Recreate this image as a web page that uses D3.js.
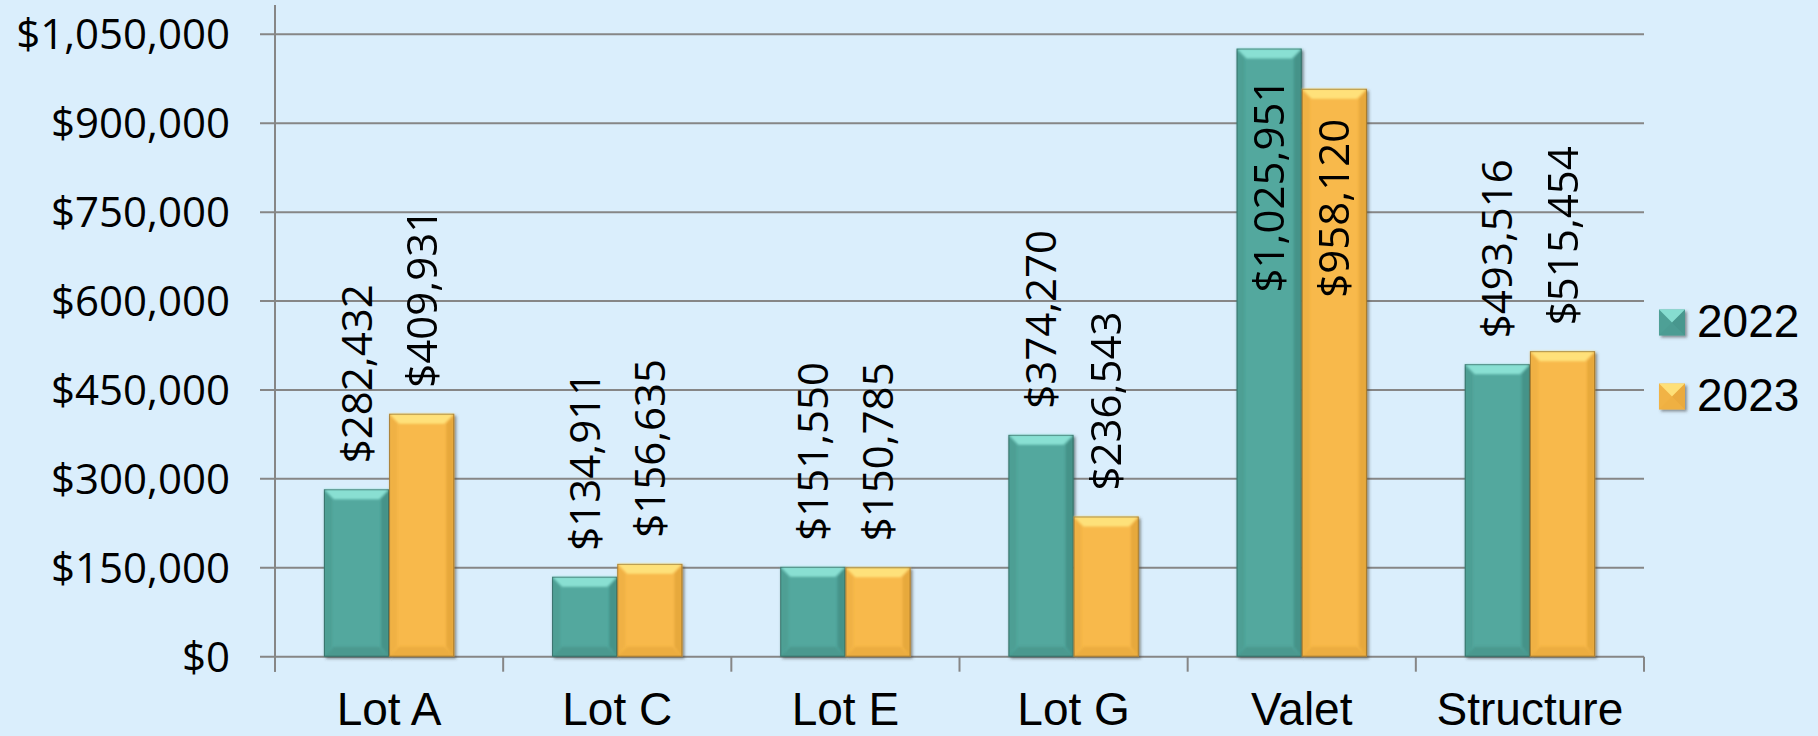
<!DOCTYPE html>
<html lang="en">
<head>
    <meta charset="UTF-8">
    <title>Parking revenue 2022 vs 2023</title>
    <script src="https://d3js.org/d3.v7.min.js"></script>
    <style>
        body {
            margin: 0;
            background-color: #daeefc;
        }
        svg {
            display: block;
        }
        .grid line, .axis-line {
            stroke: #868686;
            stroke-width: 2px;
        }
        .y-label, .data-label {
            font-family: "Open Sans", sans-serif;
            font-size: 42px;
            fill: #000;
        }
        .x-label, .legend-label {
            font-family: "Liberation Sans", Arial, sans-serif;
            font-size: 46px;
            fill: #000;
        }
    </style>
</head>
<body>
<svg id="chart" width="1818" height="736"></svg>

<script>
    // Chart data
    const categories = ["Lot A", "Lot C", "Lot E", "Lot G", "Valet", "Structure"];
    const seriesNames = ["2022", "2023"];
    const values2022 = [282432, 134911, 151550, 374270, 1025951, 493516];
    const values2023 = [409931, 156635, 150785, 236543, 958120, 515454];
    const yTicks = [0, 150000, 300000, 450000, 600000, 750000, 900000, 1050000];

    const seriesColors = {
        "2022": { base: "#53a89e", light: "#8fe6d8", dark: "#3b8279" },
        "2023": { base: "#f8b94b", light: "#ffe680", dark: "#d99a2e" }
    };

    const plotLeft = 275, plotRight = 1644;
    const plotTop = 5, yZero = 656.7, yMaxPx = 34.3;
    const tickLen = 15;

    const svg = d3.select("#chart");
    const defs = svg.append("defs");

    // soft drop shadow for bars
    const shadow = defs.append("filter")
        .attr("id", "barShadow")
        .attr("x", "-10%").attr("y", "-10%")
        .attr("width", "130%").attr("height", "130%");
    shadow.append("feDropShadow")
        .attr("dx", 2).attr("dy", 2)
        .attr("stdDeviation", 1.5)
        .attr("flood-color", "#404040")
        .attr("flood-opacity", 0.55);

    const soften = defs.append("filter").attr("id", "soften");
    soften.append("feGaussianBlur").attr("stdDeviation", 0.8);

    // Scales
    const x0 = d3.scaleBand()
        .domain(categories)
        .range([plotLeft, plotRight])
        .padding(0);

    const x1 = d3.scaleBand()
        .domain(seriesNames)
        .range([0, x0.bandwidth()])
        .paddingInner(0)
        .paddingOuter(0.75);

    const y = d3.scaleLinear()
        .domain([0, 1050000])
        .range([yZero, yMaxPx]);

    const fmt = d3.format("$,");

    // Gridlines (extend left past the axis as tick marks)
    const grid = svg.append("g").attr("class", "grid");
    grid.selectAll("line")
        .data(yTicks)
        .enter().append("line")
        .attr("x1", plotLeft - tickLen)
        .attr("x2", plotRight)
        .attr("y1", d => y(d))
        .attr("y2", d => y(d));

    // Y axis line
    svg.append("line")
        .attr("class", "axis-line")
        .attr("x1", plotLeft).attr("x2", plotLeft)
        .attr("y1", plotTop).attr("y2", yZero + tickLen);

    // Category tick marks below the x axis
    const boundaries = categories.map(c => x0(c)).concat([plotRight]);
    svg.append("g").selectAll("line")
        .data(boundaries)
        .enter().append("line")
        .attr("class", "axis-line")
        .attr("x1", d => d).attr("x2", d => d)
        .attr("y1", yZero).attr("y2", yZero + tickLen);

    // Y tick labels
    svg.append("g").selectAll("text")
        .data(yTicks)
        .enter().append("text")
        .attr("class", "y-label")
        .attr("x", 230)
        .attr("y", d => y(d))
        .attr("dy", "0.36em")
        .attr("text-anchor", "end")
        .text(d => fmt(d));

    // X category labels
    svg.append("g").selectAll("text")
        .data(categories)
        .enter().append("text")
        .attr("class", "x-label")
        .attr("x", d => x0(d) + x0.bandwidth() / 2)
        .attr("y", 725)
        .attr("text-anchor", "middle")
        .text(d => d);

    // Build bar records
    const bars = [];
    categories.forEach((cat, i) => {
        bars.push({ cat, series: "2022", value: values2022[i] });
        bars.push({ cat, series: "2023", value: values2023[i] });
    });

    /**
     * Draw one bevelled bar (Excel "soft bevel" look).
     */
    function drawBevelBar(g, bx, by, bw, bh, colors) {
        const d = Math.min(10, bh / 2, bw / 2);
        const poly = pts => "M" + pts.map(p => p.join(",")).join("L") + "Z";

        g.append("rect")
            .attr("x", bx).attr("y", by)
            .attr("width", bw).attr("height", bh)
            .attr("fill", colors.base)
            .attr("filter", "url(#barShadow)");

        const bevel = g.append("g").attr("filter", "url(#soften)");
        // top facet
        bevel.append("path")
            .attr("d", poly([[bx, by], [bx + bw, by], [bx + bw - d, by + d], [bx + d, by + d]]))
            .attr("fill", colors.light)
            .attr("opacity", 0.9);
        // left facet
        bevel.append("path")
            .attr("d", poly([[bx, by], [bx + d * 0.8, by + d], [bx + d * 0.8, by + bh - d], [bx, by + bh]]))
            .attr("fill", colors.dark)
            .attr("opacity", 0.25);
        // right facet
        bevel.append("path")
            .attr("d", poly([[bx + bw, by], [bx + bw - d * 0.8, by + d], [bx + bw - d * 0.8, by + bh - d], [bx + bw, by + bh]]))
            .attr("fill", colors.dark)
            .attr("opacity", 0.55);
        // bottom facet
        bevel.append("path")
            .attr("d", poly([[bx, by + bh], [bx + bw, by + bh], [bx + bw - d, by + bh - d], [bx + d, by + bh - d]]))
            .attr("fill", colors.dark)
            .attr("opacity", 0.4);

        g.append("rect")
            .attr("x", bx + 0.5).attr("y", by + 0.5)
            .attr("width", bw - 1).attr("height", bh - 1)
            .attr("fill", "none")
            .attr("stroke", "rgba(0,0,0,0.3)")
            .attr("stroke-width", 1);
    }

    const barLayer = svg.append("g");
    bars.forEach(b => {
        const bx = x0(b.cat) + x1(b.series);
        const by = y(b.value);
        drawBevelBar(barLayer.append("g"), bx, by, x1.bandwidth(), yZero - by, seriesColors[b.series]);
    });

    // Data labels, rotated; moved inside the bar when they would not fit above it
    const outsideGap = 26, insideGap = 30;
    const labelLayer = svg.append("g");
    bars.forEach(b => {
        const cx = x0(b.cat) + x1(b.series) + x1.bandwidth() / 2;
        const top = y(b.value);
        const t = labelLayer.append("text")
            .attr("class", "data-label")
            .attr("dy", "0.36em")
            .text(fmt(b.value));
        const len = t.node().getComputedTextLength();
        if (top - outsideGap - len < 0) {
            t.attr("text-anchor", "end")
                .attr("transform", `translate(${cx},${top + insideGap}) rotate(-90)`);
        } else {
            t.attr("text-anchor", "start")
                .attr("transform", `translate(${cx},${top - outsideGap}) rotate(-90)`);
        }
    });

    // Legend with pyramid-style markers
    const legendRows = [322.5, 396.5];
    const legend = svg.append("g");
    seriesNames.forEach((name, i) => {
        const cy = legendRows[i];
        const s = 26, lx = 1659, ly = cy - s / 2;
        const c = seriesColors[name];
        const g = legend.append("g");
        const mx = lx + s / 2, my = cy;
        const tri = (pts, fill, op) => g.append("path")
            .attr("d", "M" + pts.map(p => p.join(",")).join("L") + "Z")
            .attr("fill", fill).attr("opacity", op);
        g.append("rect").attr("x", lx).attr("y", ly).attr("width", s).attr("height", s)
            .attr("fill", c.base).attr("filter", "url(#barShadow)");
        tri([[lx, ly], [lx + s, ly], [mx, my]], c.light, 0.85);
        tri([[lx, ly], [mx, my], [lx, ly + s]], c.dark, 0.2);
        tri([[lx + s, ly], [mx, my], [lx + s, ly + s]], c.dark, 0.45);
        tri([[lx, ly + s], [lx + s, ly + s], [mx, my]], c.dark, 0.3);

        legend.append("text")
            .attr("class", "legend-label")
            .attr("x", 1697)
            .attr("y", cy + 14.5)
            .text(name);
    });
</script>
</body>
</html>
